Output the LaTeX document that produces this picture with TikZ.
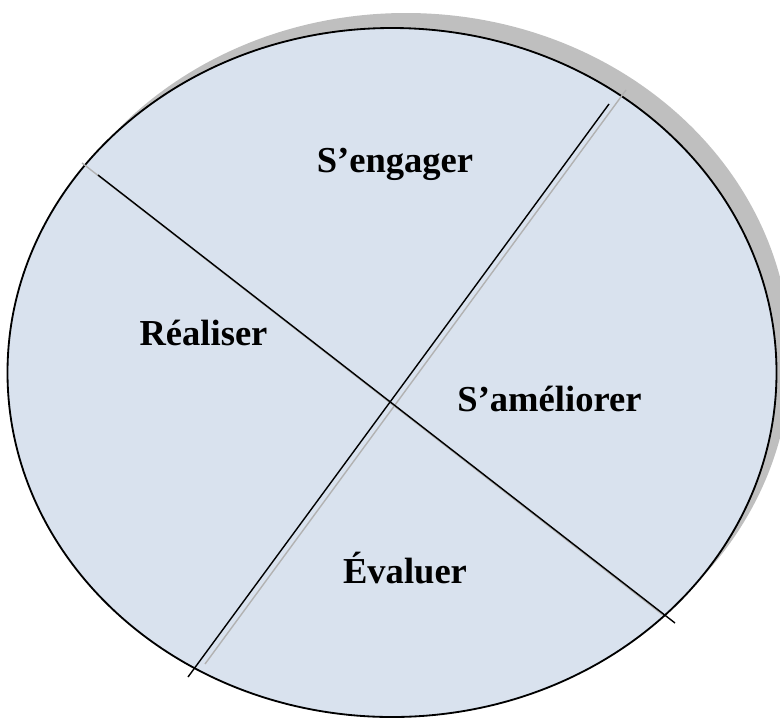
\documentclass[tikz,border=0pt]{standalone}
\usepackage{fontspec}
\setmainfont{Liberation Serif}
\usepackage{tikz}
\usetikzlibrary{calc}

\definecolor{discfill}{RGB}{217,226,238}
\definecolor{discshadow}{RGB}{191,191,191}
\definecolor{rayshadow}{RGB}{178,178,178}

\begin{document}
\begin{tikzpicture}[
    x=0.025cm, y=-0.025cm,
    phase/.style={anchor=base,inner sep=0pt,font=\fontsize{26}{31}\selectfont\bfseries},
    ray/.style={draw=black,line width=1pt},
    rayshade/.style={draw=rayshadow,line width=1pt},
]
    \useasboundingbox (0,0) rectangle (780,718);

    % disc and its shadow
    \fill[discshadow] (406,357.5) ellipse [x radius=384.5, y radius=344.5];
    \filldraw[fill=discfill,draw=black,line width=1.3pt] (392,372.5) ellipse [x radius=384.5, y radius=344.5];

    % end points of the two dividing lines
    \coordinate (a1) at (98,175);
    \coordinate (a2) at (675,623);
    \coordinate (b1) at (609,104);
    \coordinate (b2) at (188,677);
    \coordinate (sa1) at (82,163);
    \coordinate (sa2) at (663,615);
    \coordinate (sb1) at (626,90);
    \coordinate (sb2) at (205,664);

    \draw[rayshade] (sa1) -- (sa2);
    \draw[rayshade] (sb1) -- (sb2);
    \draw[ray] (a1) -- (a2);
    \draw[ray] (b1) -- (b2);

    % the four phases
    \node[phase] (engager) at (395,172) {S’engager};
    \node[phase] (realiser) at (203.5,345) {Réaliser};
    \node[phase] (ameliorer) at (549.5,411) {S’améliorer};
    \node[phase] (evaluer) at (405,583) {Évaluer};
\end{tikzpicture}
\end{document}
